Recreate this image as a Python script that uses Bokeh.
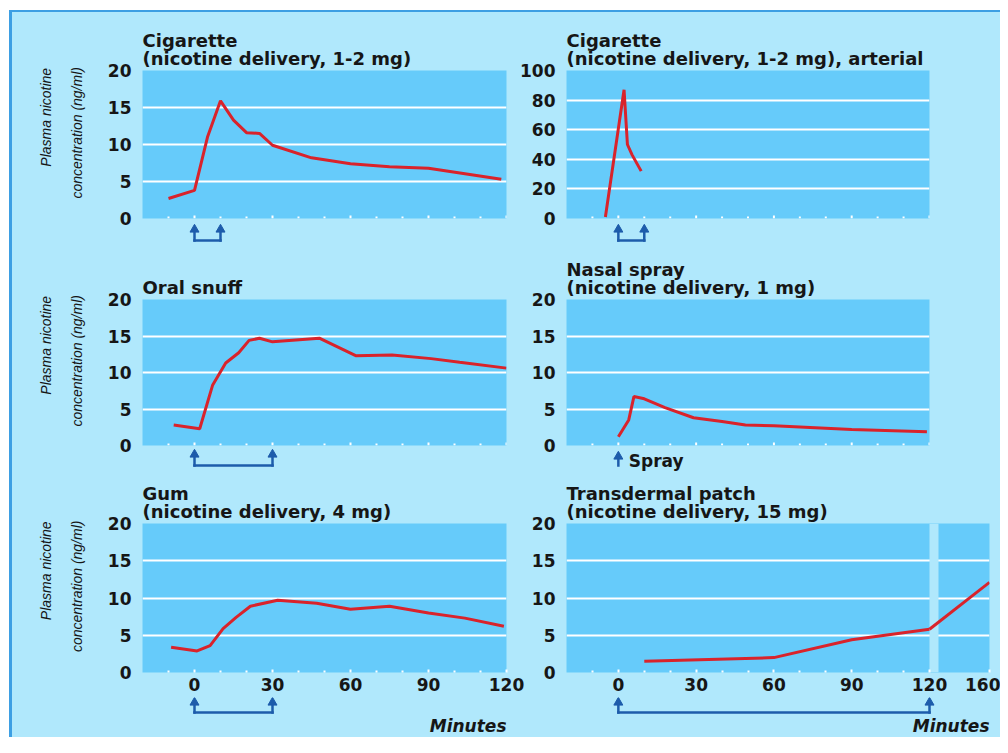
from bokeh.plotting import figure
from bokeh.layouts import row, column
from bokeh.models import Range1d, FixedTicker, BoxAnnotation, CustomJSTickFormatter
from bokeh.core.properties import value
from bokeh.embed import file_html
from bokeh.resources import INLINE

# ---------------- data (minutes, ng/ml) ----------------
cig_t = [-10, 0, 5, 10, 15, 20, 25, 30, 45, 60, 75, 90, 118]
cig_c = [2.7, 3.8, 11.0, 15.9, 13.3, 11.6, 11.5, 9.9, 8.2, 7.4, 7.0, 6.8, 5.3]
art_t = [-5, 2.2, 3.5, 5.3, 8.8]
art_c = [1, 87, 50, 43, 32]
snuff_t = [-8, 2, 7, 12, 17, 21, 25, 30, 48, 62, 76, 91, 102, 120]
snuff_c = [2.8, 2.3, 8.3, 11.3, 12.7, 14.4, 14.7, 14.2, 14.7, 12.3, 12.4, 11.9, 11.4, 10.6]
spray_t = [0, 4, 6, 10, 18, 29, 40, 49, 60, 90, 119]
spray_c = [1.2, 3.5, 6.7, 6.4, 5.2, 3.8, 3.3, 2.8, 2.7, 2.2, 1.9]
gum_t = [-9, 1, 6, 11, 16, 21.5, 32, 47, 60, 75, 90, 104, 119]
gum_c = [3.4, 2.9, 3.6, 5.9, 7.4, 8.9, 9.7, 9.3, 8.5, 8.9, 8.0, 7.3, 6.2]
patch_t = [10, 60, 90, 120]
patch_c = [1.5, 2.0, 4.4, 5.8]
patch_late_t = [120, 160]
patch_late_c = [5.8, 12.1]

cig_dose = [0, 10]
snuff_dose = [0, 30]
spray_dose = [0]
gum_dose = [0, 30]
patch_dose = [0, 120]

x_ticks = [0, 30, 60, 90, 120]
x_minor = [-10, 10, 20, 40, 50, 70, 80, 100, 110]
y_ticks = [0, 5, 10, 15, 20]
y_grid = [5, 10, 15]
art_ticks = [0, 20, 40, 60, 80, 100]
art_grid = [20, 40, 60, 80]

# ---------------- style ----------------
BG = "#b0e8fc"
PLOT = "#66cbfa"
RED = "#d9232b"
BLUE = "#1d5cab"
EDGE = "#3d9fe3"
INK = "#161616"
FONT = "DejaVu Sans"
LFONT = "Liberation Sans"
NB = "\u00a0"
# rotated label: both lines end at the same height, block lifted a little above centre
YLABEL = NB * 14 + "Plasma nicotine\n" + NB * 6 + "concentration (ng/ml)"
OVERLAP = 10         # strip below a panel starts right at the panel's bottom edge


def panel(title, width, height, bl, br, bt, bb, y_end, yticks, ygrid, fh,
          xlabels=False, ylabel=False, x_end=120):
    p = figure(width=width, height=height, x_range=Range1d(-20, x_end),
               y_range=Range1d(0, y_end), output_backend="svg",
               toolbar_location=None, min_border_left=bl, min_border_right=br,
               min_border_top=bt, min_border_bottom=bb,
               background_fill_color=PLOT, border_fill_color=BG,
               outline_line_color=None, title=title,
               x_axis_location="below" if xlabels else None)
    p.title.text_font = FONT
    p.title.text_font_size = "18px"
    p.title.text_font_style = "bold"
    p.title.text_color = INK
    p.title.text_line_height = 0.85
    p.title.standoff = 3
    p.xgrid.visible = False

    if xlabels:
        xa = p.xaxis[0]
        xa.ticker = FixedTicker(ticks=x_ticks, minor_ticks=x_minor)
        xa.axis_line_color = None
        xa.major_tick_in = 3
        xa.major_tick_out = 0
        xa.major_tick_line_color = "white"
        xa.major_tick_line_width = 2
        xa.minor_tick_in = 2
        xa.minor_tick_out = 0
        xa.minor_tick_line_color = "white"
        xa.minor_tick_line_width = 2
        xa.major_label_text_font = FONT
        xa.major_label_text_font_style = "bold"
        xa.major_label_text_color = INK
        xa.major_label_standoff = 5
        xa.major_label_text_font_size = "17px"
    else:
        # small white tick dots along the bottom edge of the panel
        per_px = y_end / fh
        p.segment(x0=x_ticks, y0=[0] * len(x_ticks), x1=x_ticks,
                  y1=[3 * per_px] * len(x_ticks), line_color="white", line_width=2)
        p.segment(x0=x_minor, y0=[0] * len(x_minor), x1=x_minor,
                  y1=[2 * per_px] * len(x_minor), line_color="white", line_width=2)

    ya = p.yaxis[0]
    ya.ticker = FixedTicker(ticks=yticks)
    ya.axis_line_color = None
    ya.major_tick_line_color = None
    ya.minor_tick_line_color = None
    ya.major_label_standoff = 5
    ya.major_label_text_font = FONT
    ya.major_label_text_font_style = "bold"
    ya.major_label_text_font_size = "17px"
    ya.major_label_text_color = INK
    if ylabel:
        ya.axis_label = YLABEL
        ya.axis_label_text_font = LFONT
        ya.axis_label_text_font_style = "italic"
        ya.axis_label_text_font_size = "14px"
        ya.axis_label_text_color = INK
        ya.axis_label_text_line_height = 1.9
        ya.axis_label_standoff = 20

    p.ygrid.ticker = FixedTicker(ticks=ygrid)
    p.ygrid.grid_line_color = "white"
    p.ygrid.grid_line_width = 2
    return p


def strip(main, width, height, bl, br):
    """transparent band under a panel, sharing its time axis; y counts pixels from the top"""
    s = figure(width=width, height=height, x_range=main.x_range,
               y_range=Range1d(height, 0), output_backend="svg",
               toolbar_location=None, min_border_left=bl, min_border_right=br,
               min_border_top=0, min_border_bottom=0,
               x_axis_location=None, y_axis_location=None,
               background_fill_alpha=0, border_fill_alpha=0,
               outline_line_color=None)
    s.grid.visible = False
    return s


def dose(s, times, tip, base):
    n = len(times)
    s.segment(x0=times, y0=[base] * n, x1=times, y1=[tip + 5] * n,
              line_color=BLUE, line_width=2.5, line_cap="square")
    s.scatter(x=times, y=[tip + 4] * n, marker="triangle", size=9,
              fill_color=BLUE, line_color=BLUE)
    if n > 1:
        s.segment(x0=[times[0]], y0=[base], x1=[times[-1]], y1=[base],
                  line_color=BLUE, line_width=2.5, line_cap="square")


def note(s, x, y, txt, align="left", style="bold", size="17px"):
    s.text(x=[x], y=[y], text=[txt], text_align=align, text_baseline="middle",
           text_font=value(FONT), text_font_style=style, text_font_size=size,
           text_color=INK)


# ---------------- row 1 ----------------
FH1 = 148
p1 = panel("Cigarette\n(nicotine delivery, 1-2 mg)", 500, 216, 130, 6, 58, OVERLAP,
           20, y_ticks, y_grid, FH1, ylabel=True)
p1.line(cig_t, cig_c, line_color=RED, line_width=3)
s1 = strip(p1, 500, 37, 130, 6)
dose(s1, cig_dose, 7, 22)

p2 = panel("Cigarette\n(nicotine delivery, 1-2 mg), arterial", 488, 216, 54, 71, 58, OVERLAP,
           100, art_ticks, art_grid, FH1)
p2.line(art_t, art_c, line_color=RED, line_width=3)
s2 = strip(p2, 488, 37, 54, 71)
dose(s2, cig_dose, 7, 22)

# ---------------- row 2 ----------------
FH2 = 148
p3 = panel("Oral snuff", 500, 200, 130, 6, 42, OVERLAP, 20, y_ticks, y_grid, FH2, ylabel=True)
p3.line(snuff_t, snuff_c, line_color=RED, line_width=3)
s3 = strip(p3, 500, 33, 130, 6)
dose(s3, snuff_dose, 5, 20)

p4 = panel("Nasal spray\n(nicotine delivery, 1 mg)", 488, 200, 54, 71, 42, OVERLAP,
           20, y_ticks, y_grid, FH2)
p4.line(spray_t, spray_c, line_color=RED, line_width=3)
s4 = strip(p4, 488, 33, 54, 71)
dose(s4, spray_dose, 7, 20)
note(s4, 4, 15, "Spray")

# ---------------- row 3 ----------------
FH3 = 149
p5 = panel("Gum\n(nicotine delivery, 4 mg)", 514, 219, 130, 20, 45, 25,
           20, y_ticks, y_grid, FH3, xlabels=True, ylabel=True)
p5.line(gum_t, gum_c, line_color=RED, line_width=3)
s5 = strip(p5, 514, 40, 130, 20)
dose(s5, gum_dose, 1, 15)
note(s5, p5.x_range.end, 28, "Minutes", align="right", style="bold italic")

# transdermal panel: main part -20..120 over 363 px, broken-axis extension 120..160 over 60 px
MAIN_W, FULL_W, GAP_W = 363, 423, 9
ppm = MAIN_W / 140.0
x_end6 = -20 + FULL_W / ppm
late_ppm = (FULL_W - MAIN_W) / (patch_late_t[-1] - patch_late_t[0])
late_start = patch_late_t[0] - MAIN_W / late_ppm
p6 = panel("Transdermal patch\n(nicotine delivery, 15 mg)", 474, 219, 40, 11, 45, 25,
           20, y_ticks, y_grid, FH3, xlabels=True, x_end=x_end6)
p6.extra_x_ranges = {"late": Range1d(late_start, patch_late_t[-1])}
p6.xaxis[0].ticker = FixedTicker(ticks=x_ticks + [x_end6], minor_ticks=x_minor)
p6.xaxis[0].formatter = CustomJSTickFormatter(code="return tick > 121 ? '160' : tick.toFixed(0);")
p6.add_layout(BoxAnnotation(left=120, right=120 + GAP_W / ppm, fill_color=BG, fill_alpha=1,
                            line_color=None, level="underlay"))
p6.line(patch_t, patch_c, line_color=RED, line_width=3)
p6.line(patch_late_t, patch_late_c, line_color=RED, line_width=3, x_range_name="late")
s6 = strip(p6, 474, 40, 40, 11)
dose(s6, patch_dose, 1, 15)
note(s6, p6.x_range.end, 28, "Minutes", align="right", style="bold italic")

lift = {"margin-top": f"-{OVERLAP}px"}
inner = column(row(p1, p2), row(s1, s2, styles=lift), row(p3, p4), row(s3, s4, styles=lift),
               row(p5, p6), row(s5, s6),
               styles={"border-left": f"3px solid {EDGE}", "border-top": f"2px solid {EDGE}",
                       "background-color": BG})
layout = column(inner, styles={"border-left": "9px solid white", "border-top": "10px solid white",
                               "background-color": "white"})

open("out.html", "w").write(file_html(layout, INLINE))
